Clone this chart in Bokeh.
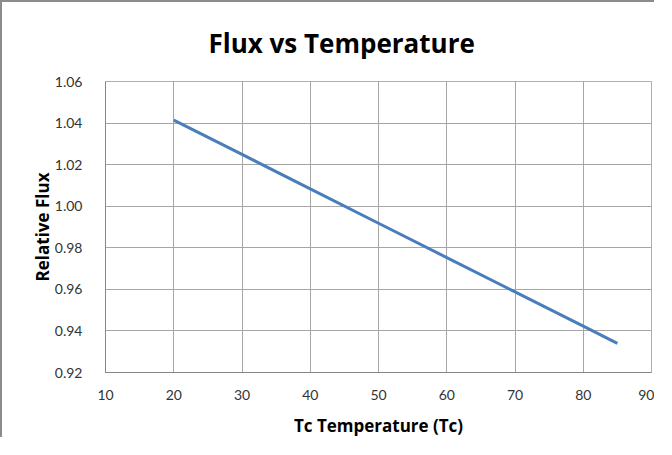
from bokeh.plotting import figure
from bokeh.models import Range1d, FixedTicker, ColumnDataSource, CustomJSTickFormatter
from bokeh.embed import file_html
from bokeh.resources import INLINE

# Data
temperature = [20, 30, 40, 50, 60, 70, 80, 85]
relative_flux = [1.0414, 1.0249, 1.0083, 0.9918, 0.9753, 0.9588, 0.9423, 0.9340]

x_ticks = [10, 20, 30, 40, 50, 60, 70, 80, 90]
y_ticks = [0.92, 0.94, 0.96, 0.98, 1.00, 1.02, 1.04, 1.06]

source = ColumnDataSource(data=dict(t=temperature, f=relative_flux))

p = figure(width=654, height=437, output_backend="svg", toolbar_location=None,
           x_range=Range1d(10, 90), y_range=Range1d(0.92, 1.06),
           title="Flux vs Temperature",
           min_border_left=103, min_border_right=5, min_border_top=79, min_border_bottom=67)

p.styles = {"border-left": "2px solid #8c8c8c", "border-top": "2px solid #8c8c8c"}

p.line("t", "f", source=source, line_color="#4a7ebb", line_width=3)

p.title.text_font = "Open Sans"
p.title.text_font_size = "26px"
p.title.text_font_style = "bold"
p.title.text_color = "#000000"
p.title.align = "left"
p.title.offset = 103
p.title.standoff = 41

p.outline_line_color = "#95b3d7"
p.outline_line_width = 1
p.background_fill_color = "white"
p.border_fill_color = "white"

p.xaxis.ticker = FixedTicker(ticks=x_ticks)
p.yaxis.ticker = FixedTicker(ticks=y_ticks)
p.yaxis.formatter = CustomJSTickFormatter(code="return tick.toFixed(2);")

for ax in (p.xaxis, p.yaxis):
    ax.major_tick_line_color = None
    ax.minor_tick_line_color = None
    ax.axis_line_color = "#868686"
    ax.major_label_text_font = "Lato"
    ax.major_label_text_font_size = "14px"
    ax.major_label_text_color = "#333333"
    ax.axis_label_text_font = "Open Sans"
    ax.axis_label_text_font_size = "17px"
    ax.axis_label_text_font_style = "bold"
    ax.axis_label_text_color = "#000000"

p.xaxis.axis_label = "Tc Temperature (Tc)"
p.yaxis.axis_label = "Relative Flux"
p.xaxis.major_label_standoff = 11
p.yaxis.major_label_standoff = 17
p.xaxis.axis_label_standoff = 11
p.yaxis.axis_label_standoff = -2

p.xgrid.ticker = FixedTicker(ticks=x_ticks)
p.ygrid.ticker = FixedTicker(ticks=y_ticks)
p.grid.grid_line_color = "#a6a6a6"
p.grid.grid_line_width = 1

open("out.html", "w").write(file_html(p, INLINE))
